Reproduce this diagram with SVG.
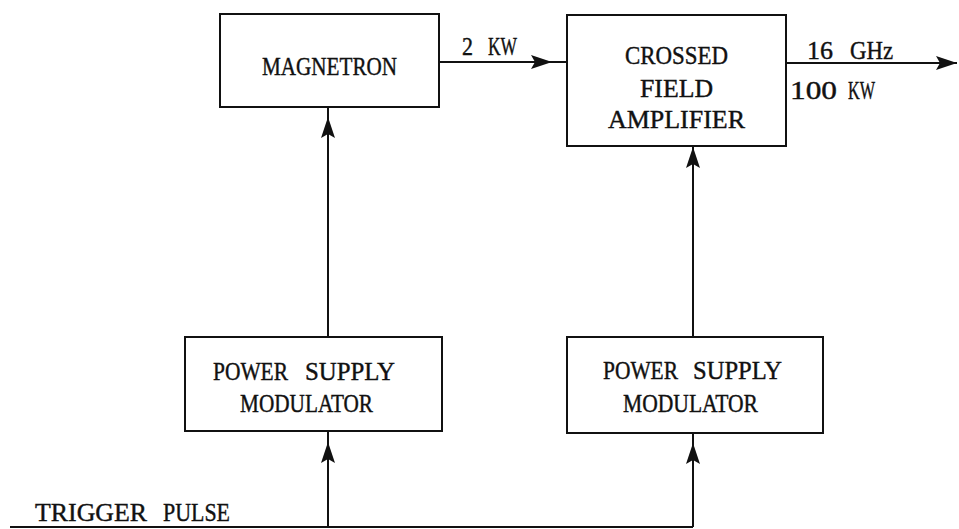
<svg xmlns="http://www.w3.org/2000/svg" width="959" height="529" viewBox="0 0 959 529">
<style>
.box{fill:none;stroke:#111;stroke-width:2}
.ln{fill:none;stroke:#111;stroke-width:2}
text{font-family:"Liberation Serif","Times New Roman",serif;font-size:25px;fill:#111;stroke:#111;stroke-width:0.4}
</style>
<defs>
<marker id="ah" markerUnits="userSpaceOnUse" markerWidth="24" markerHeight="16" refX="22" refY="8" orient="auto" viewBox="0 0 24 16">
<path d="M22,8 L1,1 L5,8 L1,15 Z" fill="#111"/>
</marker>
</defs>
<rect width="959" height="529" fill="#fff"/>
<g id="connectors">
<path class="ln" d="M439,62 L552,62" marker-end="url(#ah)"/>
<path class="ln" d="M550,62 L567,62"/>
<path class="ln" d="M786,63 L957,63" marker-end="url(#ah)"/>
<path class="ln" d="M328,337 L328,117" marker-end="url(#ah)"/>
<path class="ln" d="M328,117 L328,107"/>
<path class="ln" d="M693,337 L693,147" marker-end="url(#ah)"/>
<path class="ln" d="M10,527 L693,527"/>
<path class="ln" d="M328,527 L328,442" marker-end="url(#ah)"/>
<path class="ln" d="M328,444 L328,431"/>
<path class="ln" d="M693,527 L693,443" marker-end="url(#ah)"/>
<path class="ln" d="M693,445 L693,433"/>
</g>
<g id="magnetron">
<rect class="box" x="220" y="14" width="219" height="93"/>
<text x="262" y="75" textLength="135" lengthAdjust="spacingAndGlyphs">MAGNETRON</text>
</g>
<g id="cfa">
<rect class="box" x="567" y="15" width="219" height="131"/>
<text x="625" y="64" textLength="103" lengthAdjust="spacingAndGlyphs">CROSSED</text>
<text x="640" y="97" textLength="73" lengthAdjust="spacingAndGlyphs">FIELD</text>
<text x="608" y="128" textLength="137" lengthAdjust="spacingAndGlyphs">AMPLIFIER</text>
</g>
<g id="psm1">
<rect class="box" x="185" y="337" width="257" height="94"/>
<text y="380"><tspan x="213" textLength="75" lengthAdjust="spacingAndGlyphs">POWER</tspan> <tspan x="305" textLength="90" lengthAdjust="spacingAndGlyphs">SUPPLY</tspan></text>
<text x="240" y="412" textLength="133" lengthAdjust="spacingAndGlyphs">MODULATOR</text>
</g>
<g id="psm2">
<rect class="box" x="567" y="337" width="256" height="96"/>
<text y="379"><tspan x="603" textLength="75" lengthAdjust="spacingAndGlyphs">POWER</tspan> <tspan x="693" textLength="89" lengthAdjust="spacingAndGlyphs">SUPPLY</tspan></text>
<text x="623" y="412" textLength="135" lengthAdjust="spacingAndGlyphs">MODULATOR</text>
</g>
<g id="labels">
<text y="55"><tspan x="462" textLength="11" lengthAdjust="spacingAndGlyphs">2</tspan> <tspan x="488" textLength="29" lengthAdjust="spacingAndGlyphs">KW</tspan></text>
<text y="59"><tspan x="807" textLength="26" lengthAdjust="spacingAndGlyphs">16</tspan> <tspan x="850" textLength="43" lengthAdjust="spacingAndGlyphs">GHz</tspan></text>
<text y="99"><tspan x="790" textLength="47" lengthAdjust="spacingAndGlyphs">100</tspan> <tspan x="848" textLength="27" lengthAdjust="spacingAndGlyphs">KW</tspan></text>
<text y="521"><tspan x="35" textLength="112" lengthAdjust="spacingAndGlyphs">TRIGGER</tspan> <tspan x="163" textLength="67" lengthAdjust="spacingAndGlyphs">PULSE</tspan></text>
</g>
</svg>
